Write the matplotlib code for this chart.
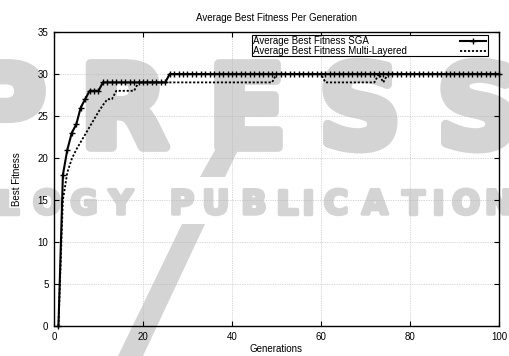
import matplotlib
matplotlib.use("Agg")
import matplotlib.pyplot as plt
import matplotlib.patheffects as pe
from matplotlib.patches import Rectangle, Polygon
from matplotlib.lines import Line2D

# ---------------- data ----------------
generations = list(range(1, 101))
sga = ([0, 18, 21, 23, 24, 26, 27, 28, 28, 28]
       + [29] * 15
       + [30] * 75)
multi_layered = ([0, 15, 18.3, 19.9, 21, 21.9, 22.8, 23.7, 24.6, 25.5, 26.3, 27, 27,
                  28, 28, 28, 28, 28]
                 + [29] * 31
                 + [30] * 11
                 + [29] * 12
                 + [30, 29]
                 + [30] * 26)
series_labels = ["Average Best Fitness SGA", "Average Best Fitness Multi-Layered"]
title = "Average Best Fitness Per Generation"
xlabel = "Generations"
ylabel = "Best Fitness"
xticks = [0, 20, 40, 60, 80, 100]
yticks = [0, 5, 10, 15, 20, 25, 30, 35]

# ---------------- figure ----------------
W, H = 510, 356
plt.rcParams['font.family'] = ['Liberation Sans', 'DejaVu Sans']
fig = plt.figure(figsize=(W / 100, H / 100), dpi=100)
ax = fig.add_axes([54 / W, 1 - 326 / H, 445 / W, 294 / H])
ax.set_facecolor('none')

# ---- faint publisher watermark (background) ----
wm_color = '#d4d4d4'
wm_font = dict(family='DejaVu Sans', weight='bold', color=wm_color, zorder=-5,
               ha='center', va='baseline')
for ch, cx in zip("PRESS", [4, 124, 247, 360, 478]):
    fig.text(cx / W, 1 - 147 / H, ch, fontsize=82,
             path_effects=[pe.withStroke(linewidth=7, foreground=wm_color)], **wm_font)
for ch, cx in zip("LOGYPUBLICATION",
                  [8, 47, 84, 121, 182, 216, 254, 287, 308, 336, 375, 413, 438, 466, 499]):
    fig.text(cx / W, 1 - 214 / H, ch, fontsize=24,
             path_effects=[pe.withStroke(linewidth=2.5, foreground=wm_color)], **wm_font)


def px(pts):
    return [(x / W, 1 - y / H) for x, y in pts]


for poly in ([(215, 150), (238, 150), (225, 177), (200, 177)],
             [(182, 224), (205, 224), (143, 356), (118, 356)]):
    fig.add_artist(Polygon(px(poly), closed=True, transform=fig.transFigure,
                           facecolor=wm_color, edgecolor='none', zorder=-6))

# ---------------- series ----------------
ax.plot(generations, multi_layered, color='black', lw=1.3,
        linestyle=(0, (1.2, 1.0)), zorder=3)
ax.plot(generations, sga, color='black', lw=1.5, marker='+', ms=4, mew=1,
        zorder=4, clip_on=False)

ax.set_xlim(0, 100)
ax.set_ylim(0, 35)
ax.set_xticks(xticks)
ax.set_yticks(yticks)
ax.tick_params(direction='in', length=3.5, width=0.8, top=True, right=True,
               labelsize=7, pad=4)
ax.grid(True, color='#b4b4b4', linestyle=(0, (1, 1.5)), linewidth=0.5)
for s in ax.spines.values():
    s.set_linewidth(1.0)

ax.set_title(title, fontsize=7, pad=8)
ax.set_xlabel(xlabel, fontsize=7, labelpad=2)
ax.set_ylabel(ylabel, fontsize=7, labelpad=11)

# ---------------- key (gnuplot style, text left, sample right) ----------------
ax.add_patch(Rectangle((0.445, 0.918), 0.530, 0.072, transform=ax.transAxes,
                       facecolor='white', edgecolor='black', lw=0.8, zorder=5))
rows_y = [0.970, 0.936]
styles = [dict(color='black', lw=1.5, marker='+', ms=4, mew=1, markevery=[1]),
          dict(color='black', lw=1.3, linestyle=(0, (1.2, 1.0)))]
for label, yy, st in zip(series_labels, rows_y, styles):
    ax.text(0.448, yy, label, transform=ax.transAxes, ha='left', va='center',
            fontsize=7, zorder=6)
    ax.add_line(Line2D([0.912, 0.9415, 0.971], [yy, yy, yy], transform=ax.transAxes,
                       zorder=6, **st))

fig.savefig("out.png", dpi=100)
